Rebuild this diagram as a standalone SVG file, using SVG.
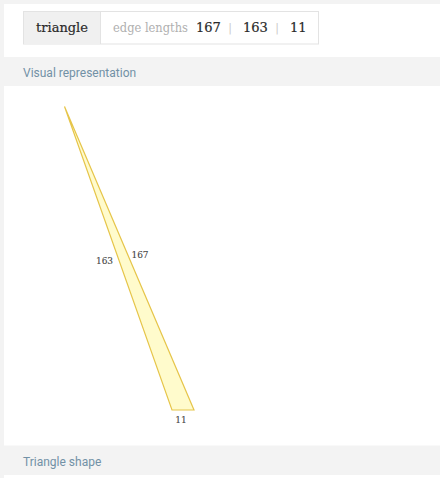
<svg xmlns="http://www.w3.org/2000/svg" width="440" height="478" viewBox="0 0 440 478">
<style>
.serif{font-family:"DejaVu Serif","Liberation Serif",serif}
.sans{font-family:Roboto,"Liberation Sans",sans-serif;font-size:12px;fill:#7291a6}
.num{font-size:13px;fill:#2a2a2a;stroke:#2a2a2a;stroke-width:0.2}
.lbl{font-family:"DejaVu Serif","Liberation Serif",serif;font-size:9px;fill:#444444;stroke:#444444;stroke-width:0.1}
.band{fill:#f3f3f3}
</style>
<rect x="0" y="0" width="440" height="478" fill="#f3f3f3"/>
<rect x="4" y="4" width="436" height="474" fill="#ffffff"/>
<g id="tab">
<rect x="23.5" y="11.5" width="295" height="32.5" fill="#ffffff" stroke="#e3e3e3"/>
<rect x="24" y="12" width="76" height="31.5" fill="#f0f0f0"/>
<line x1="100.5" y1="11.5" x2="100.5" y2="44" stroke="#e3e3e3"/>
<text class="serif num" x="62" y="32" text-anchor="middle" font-size="13.5">triangle</text>
<text class="serif" x="113" y="32" font-size="13" fill="#b0b0b0" textLength="75" lengthAdjust="spacingAndGlyphs">edge lengths</text>
<text class="serif num" x="196" y="32">167</text>
<text class="serif" x="230" y="31" font-size="11" fill="#c8c8c8" text-anchor="middle">|</text>
<text class="serif num" x="243" y="32">163</text>
<text class="serif" x="277" y="31" font-size="11" fill="#c8c8c8" text-anchor="middle">|</text>
<text class="serif num" x="290" y="32">11</text>
</g>
<g id="header-visual">
<rect class="band" x="4" y="57" width="436" height="29"/>
<text class="sans" x="23" y="77">Visual representation</text>
</g>
<g id="triangle">
<polygon points="64.5,106.5 172,410 194,410" fill="#fffbcc" stroke="#e6c54a" stroke-width="1.2"/>
<text class="lbl" x="104.5" y="264" text-anchor="middle">163</text>
<text class="lbl" x="140" y="258" text-anchor="middle">167</text>
<text class="lbl" x="181" y="422.5" text-anchor="middle">11</text>
</g>
<g id="header-shape">
<rect class="band" x="4" y="445.5" width="436" height="29.5"/>
<text class="sans" x="23" y="466">Triangle shape</text>
</g>
<g id="connectors"/>
</svg>
